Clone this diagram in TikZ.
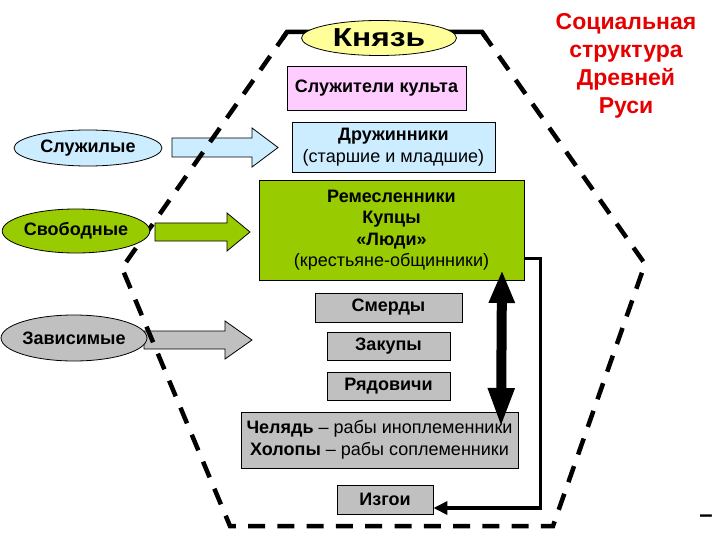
\documentclass[tikz,border=0pt]{standalone}
\usepackage{fontspec}
\setmainfont{Liberation Sans}
\newfontfamily\knyazfont{Liberation Sans}[FakeStretch=1.22]
\usepackage{tikz}
\usetikzlibrary{arrows.meta,positioning,shapes.geometric}
\definecolor{rus-pink}{RGB}{255,204,255}
\definecolor{rus-blue}{RGB}{204,236,255}
\definecolor{rus-green}{RGB}{153,204,0}
\definecolor{rus-yellow}{RGB}{255,255,153}
\definecolor{rus-gray}{RGB}{192,192,192}
\definecolor{rus-red}{RGB}{230,0,0}
\tikzset{
  rus-box/.style={draw=black, line width=0.9pt, align=center, inner sep=0pt,
    font=\fontsize{18}{21.5}\selectfont},
  rus-bold/.style={font=\bfseries\fontsize{18}{21.5}\selectfont},
  rus-oval/.style={draw=black, ellipse, line width=0.8pt, inner sep=0pt,
    font=\bfseries\fontsize{18}{20}\selectfont},
  rus-shaft/.style={draw=black, line width=0.8pt, line join=miter},
  rus-border/.style={line width=4.5pt, dash pattern=on 17pt off 12.28pt},
  rus-title/.style={text=rus-red, align=center,
    font=\bfseries\fontsize{23}{28}\selectfont}
}

\begin{document}
\begin{tikzpicture}[>=Latex, x=1pt, y=-1pt]
  \useasboundingbox (0,0) rectangle (720,540);

  % Block arrows from the groups
  \draw[rus-shaft, fill=rus-blue] (172,138) -- (252,138) -- (252,128) -- (278,147.5)
    -- (252,167) -- (252,157) -- (172,157) -- cycle;
  \draw[rus-shaft, fill=rus-green] (155,223) -- (227,223) -- (227,213) -- (250,232)
    -- (227,251) -- (227,241) -- (155,241) -- cycle;
  \draw[rus-shaft, fill=rus-gray] (144,331) -- (225,331) -- (225,321) -- (252,340)
    -- (225,359) -- (225,349) -- (144,349) -- cycle;

  % Dashed hexagon, solid along the top
  \draw[rus-border] (482,32) -- (645,264) -- (553,526) -- (230,526) -- (122,268) -- (287,32);
  \draw[line width=4.5pt] (486.6,38.5) -- (482,32) -- (287,32) -- (282.4,38.6);

  % Knyaz
  \node[rus-oval, fill=rus-yellow, minimum width=155pt, minimum height=35pt,
    font=\knyazfont\bfseries\fontsize{26}{30}\selectfont] (knyaz) at (379,38) {Князь};

  % Boxes of the pyramid
  \node[rus-box, rus-bold, fill=rus-pink, minimum width=179pt, minimum height=44pt] (kult)
    at (376.5,88) {Служители культа};
  \node[rus-box, fill=rus-blue, minimum width=203pt, minimum height=50pt] (druzh) at (393.5,147)
    {\textbf{Дружинники}\\(старшие и младшие)};
  \node[rus-box, fill=rus-green, minimum width=265pt, minimum height=100pt] (remesl) at (391.5,230)
    {\textbf{Ремесленники}\\\textbf{Купцы}\\\textbf{«Люди»}\\(крестьяне-общинники)};
  \node[rus-box, rus-bold, fill=rus-gray, minimum width=147pt, minimum height=29pt] (smerd)
    at (388.5,307.5) {Смерды};
  \node[rus-box, rus-bold, fill=rus-gray, minimum width=123pt, minimum height=28pt] (zakup)
    at (388.5,346) {Закупы};
  \node[rus-box, rus-bold, fill=rus-gray, minimum width=123pt, minimum height=28pt] (ryad)
    at (388.5,386.5) {Рядовичи};
  \node[rus-box, fill=rus-gray, minimum width=277pt, minimum height=56pt] (chelyad) at (379.5,440)
    {\textbf{Челядь} – рабы иноплеменники\\\textbf{Холопы} – рабы соплеменники};
  \node[rus-box, rus-bold, fill=rus-gray, minimum width=96pt, minimum height=29pt] (izgoi)
    at (385,499.5) {Изгои};

  % Groups on the left
  \node[rus-oval, fill=rus-blue, minimum width=148pt, minimum height=36pt] (sluzh) at (88,148) {Служилые};
  \node[rus-oval, fill=rus-green, minimum width=124pt, minimum height=44pt] (svob) at (76,231) {Свободные};
  \node[rus-oval, fill=rus-gray, minimum width=119pt, minimum height=46pt] (zavis) at (74,338) {Зависимые};

  % Title
  \node[rus-title] (title) at (626,66) {Социальная\\структура\\Древней\\Руси};

  % Moving up and down
  \coordinate (uptip) at (502,270);
  \coordinate (downtip) at (501,428);
  \draw[{Triangle[width=24pt,length=33pt]}-{Triangle[width=24pt,length=40pt]}, line width=10pt]
    (uptip) -- (downtip);

  % Falling out to the outcasts
  \coordinate (rtop) at (540.5,258.5);
  \coordinate (rbot) at (540.5,508);
  \draw[-{Triangle[width=13pt,length=14pt]}, line width=3.8pt]
    (rtop -| remesl.east) -- (rtop) -- (rbot) -- (rbot -| izgoi.east);

  \node[font=\bfseries\fontsize{24}{24}\selectfont] (dash) at (706,519) {–};
\end{tikzpicture}
\end{document}
